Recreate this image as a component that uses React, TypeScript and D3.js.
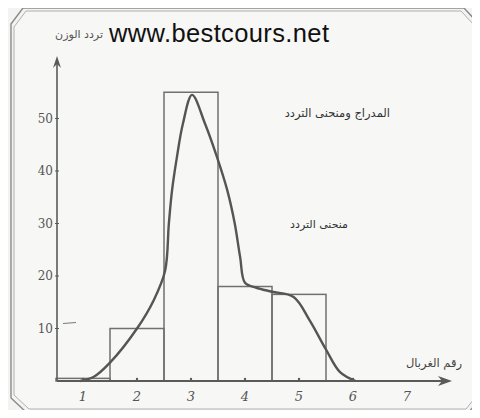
// @ts-nocheck
import * as d3 from "d3";
import React, { useRef, useEffect } from "react";

// sieve numbers (x axis) and weight frequency of each bar
const sieves = [1, 2, 3, 4, 5];
const barValues = [0.5, 10, 55, 18, 16.5];
const xTicks = [1, 2, 3, 4, 5, 6, 7];
const yTicks = [10, 20, 30, 40, 50];

// frequency curve
const curveX = [0.95, 1.2, 1.5, 2, 2.31, 2.52, 2.59, 2.65, 2.74, 2.85, 3.02, 3.26, 3.48, 3.67, 3.81, 3.91, 4, 4.2, 4.5, 4.9, 5.2, 5.5, 5.76, 6.05];
const curveY = [0, 0.8, 3.5, 10, 15.4, 21, 30, 36.4, 42.7, 49, 54.5, 49, 42.7, 36.4, 30, 23.6, 18.7, 17.8, 17, 16, 11.5, 6, 1.7, 0];

export default function App() {
  const svgRef = useRef<SVGSVGElement | null>(null);

  useEffect(() => {
    const width = 480;
    const height = 418;
    const svg = d3.select(svgRef.current).attr("width", width).attr("height", height);
    svg.selectAll("*").remove();

    svg.append("rect").attr("width", width).attr("height", height).attr("fill", "#f3f3f1");

    // beveled frame, drawn twice like the scan
    const frame = (o) =>
      `M${11 + o},${24 + o} L${23 + o},${8 + o} L${464 - o},${8 + o} L${477 - o},${22 + o} L${477 - o},${402 - o} L${469 - o},${412 - o} L${26 + o},${412 - o} L${11 + o},${398 - o} Z`;
    svg.append("path").attr("d", frame(0)).attr("fill", "none").attr("stroke", "#8a8a8a").attr("stroke-width", 1.4);
    svg.append("path").attr("d", frame(3)).attr("fill", "#f7f7f6").attr("stroke", "#b0b0b0").attr("stroke-width", 1);

    const x = d3.scaleLinear().domain([0.5, 7]).range([56, 407]);
    const y = d3.scaleLinear().domain([0, 10]).range([381, 328.5]);

    const ink = "#5a5a5a";

    // bars
    svg.append("g")
      .selectAll("rect")
      .data(sieves)
      .join("rect")
      .attr("x", (d) => x(d - 0.5))
      .attr("width", (d) => x(d + 0.5) - x(d - 0.5))
      .attr("y", (d, i) => y(barValues[i]))
      .attr("height", (d, i) => y(0) - y(barValues[i]))
      .attr("fill", "none")
      .attr("stroke", "#707070")
      .attr("stroke-width", 1.5);

    // curve
    const pts = curveX.map((v, i) => [v, curveY[i]]);
    const line = d3.line().x((d) => x(d[0])).y((d) => y(d[1])).curve(d3.curveCatmullRom.alpha(0.5));
    svg.append("path")
      .datum(pts)
      .attr("d", line)
      .attr("fill", "none")
      .attr("stroke", "#555")
      .attr("stroke-width", 2.4)
      .attr("stroke-linejoin", "round");

    // axes
    const axisX = 57;
    const axisY = y(0);
    svg.append("line").attr("x1", axisX).attr("x2", axisX).attr("y1", axisY).attr("y2", 62)
      .attr("stroke", ink).attr("stroke-width", 1.6);
    svg.append("path").attr("d", `M${axisX},56 L${axisX - 4},68 L${axisX},64 L${axisX + 4},68 Z`).attr("fill", ink);
    svg.append("line").attr("x1", axisX).attr("x2", 446).attr("y1", axisY).attr("y2", axisY)
      .attr("stroke", ink).attr("stroke-width", 1.8);
    svg.append("path").attr("d", `M452,${axisY} L438,${axisY - 5} L442,${axisY} L438,${axisY + 5} Z`).attr("fill", ink);

    svg.append("g")
      .selectAll("text")
      .data(yTicks)
      .join("text")
      .attr("x", axisX - 4)
      .attr("y", (d) => y(d) + 4)
      .attr("text-anchor", "end")
      .attr("font-family", "DejaVu Serif, serif")
      .attr("font-size", 12)
      .attr("fill", "#555")
      .text((d) => d);
    svg.append("g")
      .selectAll("line")
      .data(yTicks)
      .join("line")
      .attr("x1", axisX - 2).attr("x2", axisX + 2)
      .attr("y1", (d) => y(d)).attr("y2", (d) => y(d))
      .attr("stroke", ink);
    svg.append("line").attr("x1", 63).attr("x2", 76).attr("y1", y(10) - 5).attr("y2", y(10) - 6)
      .attr("stroke", "#777").attr("stroke-width", 1);

    svg.append("g")
      .selectAll("text")
      .data(xTicks)
      .join("text")
      .attr("x", (d) => x(d))
      .attr("y", 401)
      .attr("text-anchor", "middle")
      .attr("font-family", "DejaVu Serif, serif")
      .attr("font-style", "italic")
      .attr("font-size", 13)
      .attr("fill", "#555")
      .text((d) => d);
    svg.append("g")
      .selectAll("circle")
      .data(xTicks.slice(0, 6))
      .join("circle")
      .attr("cx", (d) => x(d))
      .attr("cy", axisY - 2)
      .attr("r", 1.2)
      .attr("fill", ink);

    // texts
    svg.append("text").attr("x", 109).attr("y", 42)
      .attr("font-family", "Liberation Sans, Arial, sans-serif").attr("font-size", 25.5)
      .attr("textLength", 220)
      .attr("fill", "#111").text("www.bestcours.net");
    const ar = "DejaVu Sans, Noto Sans, sans-serif";
    // rtl text: "start" anchors the right edge
    svg.append("text").attr("x", 103).attr("y", 38).attr("text-anchor", "start").attr("direction", "rtl")
      .attr("font-family", ar).attr("font-size", 11).attr("fill", "#555").text("تردد الوزن");
    svg.append("text").attr("x", 390).attr("y", 117).attr("text-anchor", "start").attr("direction", "rtl")
      .attr("font-family", ar).attr("font-size", 11.5).attr("fill", "#333").text("المدراج ومنحنى التردد");
    svg.append("text").attr("x", 348).attr("y", 228).attr("text-anchor", "start").attr("direction", "rtl")
      .attr("font-family", ar).attr("font-size", 11).attr("fill", "#333").text("منحنى التردد");
    svg.append("text").attr("x", 462).attr("y", 367).attr("text-anchor", "start").attr("direction", "rtl")
      .attr("font-family", ar).attr("font-size", 11.5).attr("fill", "#444").text("رقم الغربال");
  }, []);

  return (
    <div style={{ margin: -8 }}>
      <svg ref={svgRef} style={{ display: "block" }} />
    </div>
  );
}
